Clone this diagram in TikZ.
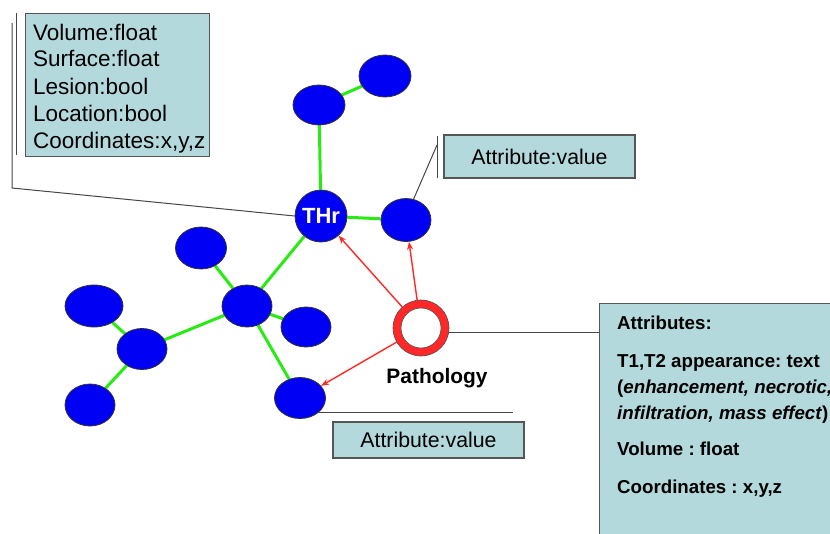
\documentclass[tikz,border=0pt]{standalone}
\usepackage{fontspec}
\setmainfont{Liberation Sans}
\frenchspacing
\usetikzlibrary{shapes.geometric,arrows.meta,backgrounds}
\definecolor{boxfill}{RGB}{180,217,221}
\definecolor{boxline}{RGB}{85,85,85}
\definecolor{nodeblue}{RGB}{0,0,245}
\definecolor{edgegreen}{RGB}{40,235,20}
\definecolor{arrowred}{RGB}{255,40,40}
\definecolor{calloutgray}{RGB}{70,70,70}
\tikzset{
  blob/.style={ellipse, draw=black!80, line width=0.8pt, fill=nodeblue, inner sep=0pt},
  link/.style={edgegreen, line width=3pt},
  patharrow/.style={arrowred, line width=1.4pt, -{Stealth[length=8pt,width=6pt]}},
  attrbox/.style={rectangle, draw=boxline, line width=1.3pt, fill=boxfill, inner sep=0pt},
  callout/.style={calloutgray, line width=1pt},
  lbl/.style={inner sep=0pt, anchor=base west, font=\fontsize{22.5}{27}\selectfont},
  blbl/.style={inner sep=0pt, anchor=base west, font=\bfseries\fontsize{18.7}{24}\selectfont},
}
\begin{document}
\begin{tikzpicture}[x=1pt,y=-1pt]
\useasboundingbox (0,0) rectangle (830,533);
\clip (0,0) rectangle (830,533);

% graph nodes
\node[blob, circle, minimum size=52pt] (THr) at (321,216) {\color{white}\bfseries\fontsize{22}{22}\selectfont THr};
\node[blob, minimum width=50pt, minimum height=43pt] (R) at (406,220) {};
\node[blob, minimum width=52pt, minimum height=40pt] (A) at (319,105) {};
\node[blob, minimum width=52pt, minimum height=42pt] (B) at (385,76) {};
\node[blob, minimum width=51pt, minimum height=42pt] (C) at (201,248) {};
\node[blob, minimum width=50pt, minimum height=42pt] (D) at (247,306) {};
\node[blob, minimum width=50pt, minimum height=40pt] (E) at (306,327) {};
\node[blob, minimum width=51pt, minimum height=41pt] (F) at (300,398) {};
\node[blob, minimum width=58pt, minimum height=42pt] (G) at (94,306) {};
\node[blob, minimum width=50pt, minimum height=41pt] (H) at (142,349) {};
\node[blob, minimum width=50pt, minimum height=42pt] (I) at (90,405) {};

% pathology ring
\node[circle, fill=arrowred, draw=black!70, line width=0.6pt, minimum size=56pt, inner sep=0pt] (P) at (421,328) {};
\node[circle, fill=white, draw=black!70, line width=0.6pt, minimum size=40pt, inner sep=0pt] (Pin) at (421,328) {};
\node[inner sep=0pt, anchor=base, font=\bfseries\fontsize{20.9}{24}\selectfont] (Plbl) at (437,383) {Pathology};

% green links
\begin{scope}[on background layer]
\draw[link] (THr) -- (A);
\draw[link] (A) -- (B);
\draw[link] (THr) -- (R);
\draw[link] (THr) -- (D);
\draw[link] (D) -- (C);
\draw[link] (D) -- (E);
\draw[link] (D) -- (F);
\draw[link] (D) -- (H);
\draw[link] (H) -- (G);
\draw[link] (H) -- (I);
\end{scope}

% red arrows
\draw[patharrow] (P) -- (THr);
\draw[patharrow] (P) -- (R);
\draw[patharrow] (P) -- (F);

% boxes
\node[attrbox, minimum width=184pt, minimum height=143pt, anchor=north west] (TL) at (25,13) {};
\node[lbl] (l1) at (33,40) {Volume:float};
\node[lbl] (l2) at (33,66) {Surface:float};
\node[lbl] (l3) at (33,94) {Lesion:bool};
\node[lbl] (l4) at (33,121) {Location:bool};
\node[lbl] (l5) at (33,148) {Coordinates:x,y,z};

\node[attrbox, minimum width=191pt, minimum height=43pt, font=\fontsize{21.3}{24}\selectfont] (AV1) at (539.5,156.5) {Attribute:value};
\node[attrbox, minimum width=191pt, minimum height=36pt, font=\fontsize{21.3}{24}\selectfont] (AV2) at (428.5,440) {Attribute:value};

\node[attrbox, minimum width=250pt, minimum height=250pt, anchor=north west] (RB) at (599,303) {};
\node[blbl] (t1) at (617,329.7) {Attributes:};
\node[blbl] (t2) at (617,367.7) {T1,T2 appearance: text};
\node[blbl] (t3) at (617,393.7) {(\textit{enhancement, necrotic,}};
\node[blbl] (t4) at (617,419.7) {\textit{infiltration, mass effect})};
\node[blbl] (t5) at (617,455.7) {Volume : float};
\node[blbl] (t6) at (617,493.7) {Coordinates : x,y,z};

% callout lines
\coordinate (b1t) at (16,13);
\coordinate (b1b) at (16,155);
\coordinate (c1t) at (12,23);
\coordinate (c1b) at (12,188);
\draw[callout] (b1t) -- (b1b);
\draw[callout] (c1t) -- (c1b) -- (THr.west);
\coordinate (b2t) at (437,136);
\coordinate (b2b) at (437,178);
\coordinate (c2) at (437,145);
\draw[callout] (b2t) -- (b2b);
\draw[callout] (c2) -- (R.70);
\draw[callout] (F.south east) -- ++(195,0);
\draw[callout] (P.-10) -- (P.-10 -| RB.west);
\end{tikzpicture}
\end{document}
